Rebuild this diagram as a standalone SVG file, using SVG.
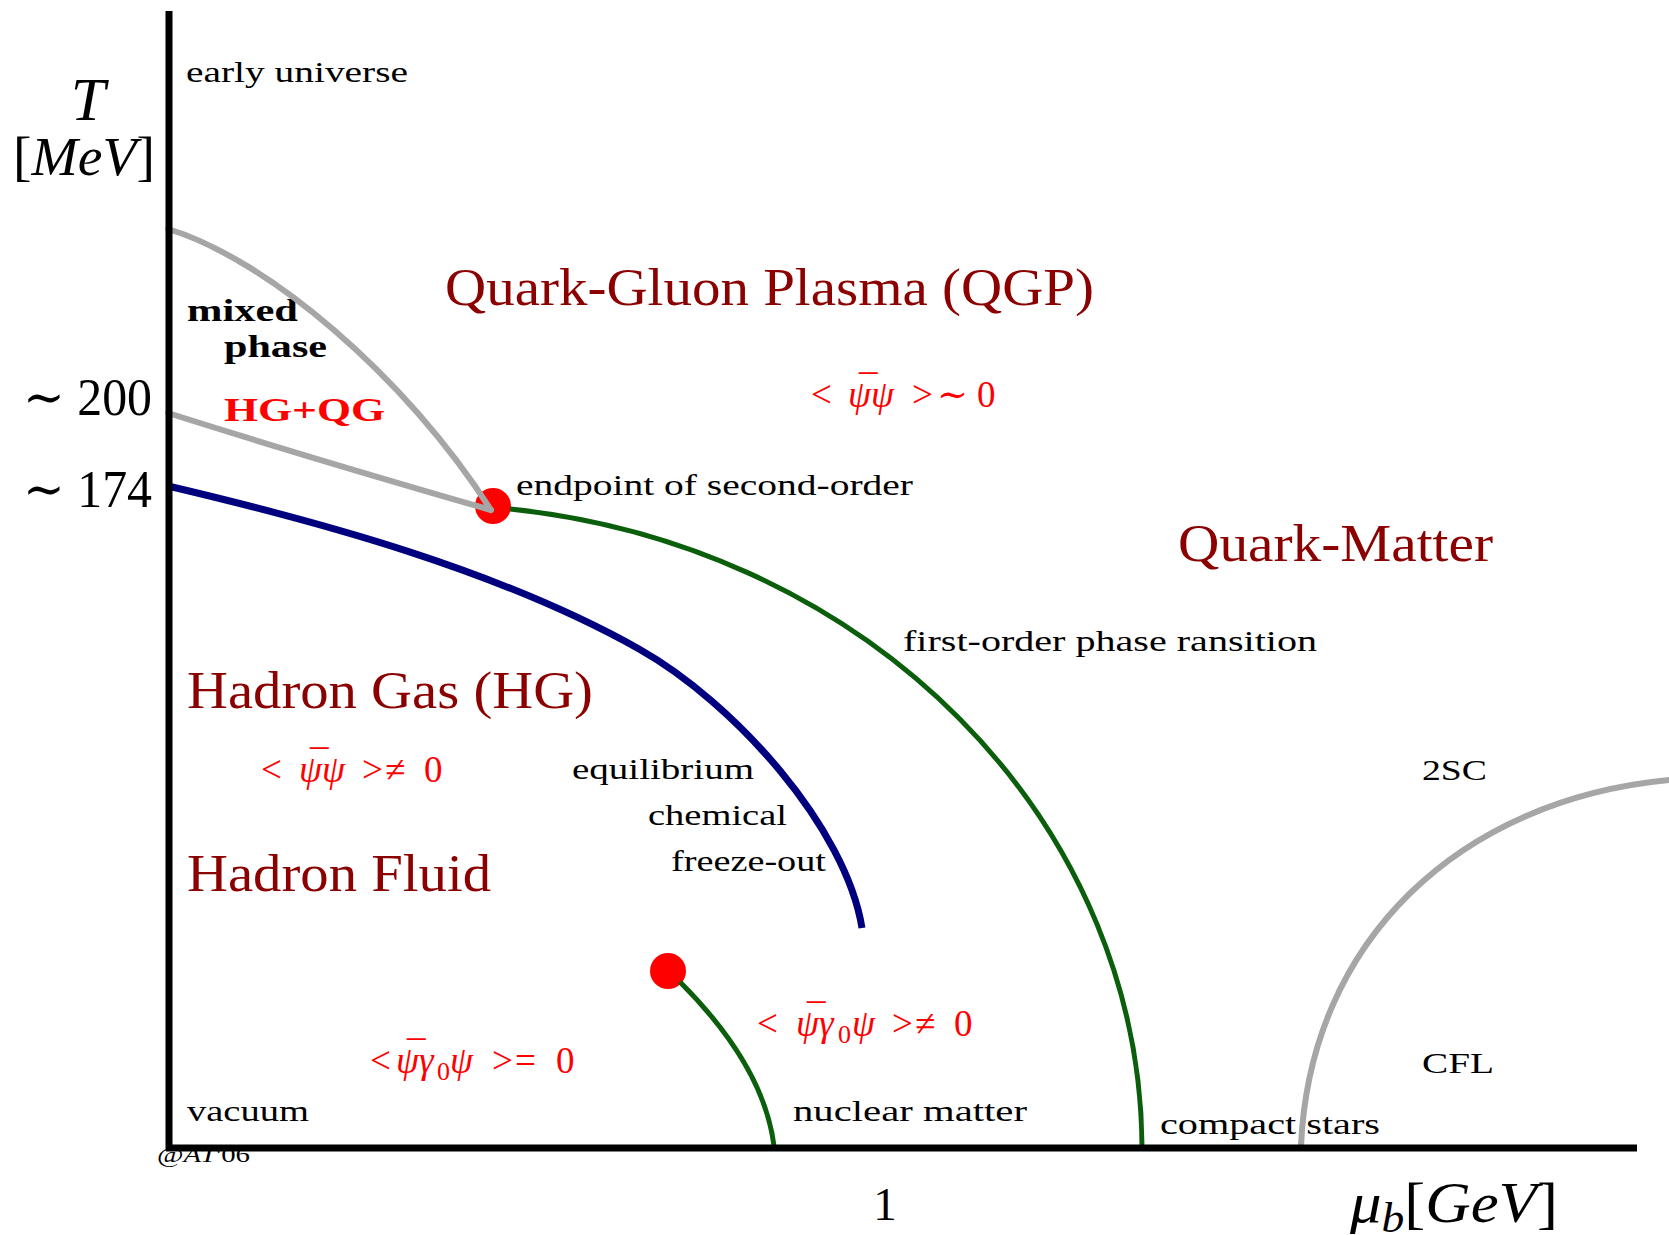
<svg xmlns="http://www.w3.org/2000/svg" width="1669" height="1235" viewBox="0 0 1669 1235">
<style>
text{font-family:"Liberation Serif","DejaVu Serif",serif;fill:#000}
.t{font-size:30px}
.b{font-size:32px;font-weight:bold}
.big{font-size:53px;fill:#8B0000}
.m{font-size:37px;fill:#f00}
.s{font-size:26px}
.i{font-style:italic}
.ax{font-size:52px}
.gray{fill:none;stroke:#a6a6a6;stroke-width:6;stroke-linecap:round}
.green{fill:none;stroke:#0b5e0b;stroke-width:5}
.blue{fill:none;stroke:#00007f;stroke-width:7}
.dot{fill:#f00}
</style>
<rect width="1669" height="1235" fill="#fff"/>
<g id="labels">
<text x="88" y="120" class="i" style="font-size:62px" text-anchor="middle">T</text>
<text x="13" y="175" style="font-size:54px" textLength="142" lengthAdjust="spacingAndGlyphs">[<tspan class="i">MeV</tspan>]</text>
<text x="186" y="82" class="t" textLength="222" lengthAdjust="spacingAndGlyphs">early universe</text>
<text x="23" y="415" class="ax" textLength="129" lengthAdjust="spacingAndGlyphs">∼ 200</text>
<text x="23" y="507" class="ax" textLength="129" lengthAdjust="spacingAndGlyphs">∼ 174</text>
<text x="157" y="1162" style="font-size:22px" textLength="93" lengthAdjust="spacingAndGlyphs">@<tspan class="i">AT</tspan>'06</text>
<text x="885" y="1220" style="font-size:47px" text-anchor="middle">1</text>
<text x="1350" y="1222" style="font-size:58px" textLength="208" lengthAdjust="spacingAndGlyphs"><tspan class="i">μ</tspan><tspan class="i" style="font-size:42px" dy="10">b</tspan><tspan dy="-10">[</tspan><tspan class="i">GeV</tspan>]</text>
</g>
<g id="node-qgp"><text x="445" y="305" class="big" textLength="649" lengthAdjust="spacingAndGlyphs">Quark-Gluon Plasma (QGP)</text>
<text y="407" class="m"><tspan x="811">&lt;</tspan><tspan x="859" dy="-6">¯</tspan><tspan x="848" dy="6" class="i">ψψ</tspan><tspan x="912">&gt;</tspan><tspan x="937">∼</tspan><tspan x="977">0</tspan></text></g>
<g id="node-mixed"><text x="187" y="321" class="b" textLength="111" lengthAdjust="spacingAndGlyphs">mixed</text>
<text x="224" y="357" class="b" textLength="103" lengthAdjust="spacingAndGlyphs">phase</text>
<text x="224" y="421" class="b" style="fill:#f00;font-size:34px" textLength="161" lengthAdjust="spacingAndGlyphs">HG+QG</text></g>
<g id="node-endpoint"><circle class="dot" cx="493" cy="506" r="18"/>
<text x="516" y="495" class="t" textLength="397" lengthAdjust="spacingAndGlyphs">endpoint of second-order</text></g>
<g id="node-quark-matter"><text x="1178" y="561" class="big" textLength="315" lengthAdjust="spacingAndGlyphs">Quark-Matter</text></g>
<g id="node-first-order"><text x="903" y="651" class="t" textLength="414" lengthAdjust="spacingAndGlyphs">first-order phase ransition</text></g>
<g id="node-hg"><text x="187" y="708" class="big" textLength="406" lengthAdjust="spacingAndGlyphs">Hadron Gas (HG)</text>
<text y="782" class="m"><tspan x="261">&lt;</tspan><tspan x="310" dy="-6">¯</tspan><tspan x="299" dy="6" class="i">ψψ</tspan><tspan x="362">&gt;</tspan><tspan x="385">≠</tspan><tspan x="424">0</tspan></text>
<text x="187" y="891" class="big" textLength="304" lengthAdjust="spacingAndGlyphs">Hadron Fluid</text></g>
<g id="node-freeze-out"><text x="572" y="779" class="t" textLength="182" lengthAdjust="spacingAndGlyphs">equilibrium</text>
<text x="648" y="825" class="t" textLength="139" lengthAdjust="spacingAndGlyphs">chemical</text>
<text x="671" y="871" class="t" textLength="155" lengthAdjust="spacingAndGlyphs">freeze-out</text></g>
<g id="node-2sc"><text x="1422" y="780" class="t" textLength="65" lengthAdjust="spacingAndGlyphs">2SC</text></g>
<g id="node-cfl"><text x="1422" y="1073" class="t" textLength="72" lengthAdjust="spacingAndGlyphs">CFL</text></g>
<g id="node-nuclear"><circle class="dot" cx="668" cy="971" r="18"/>
<text y="1036" class="m"><tspan x="757">&lt;</tspan><tspan x="807" dy="-6">¯</tspan><tspan x="796" dy="6" class="i">ψγ</tspan><tspan x="838" class="s" dy="7">0</tspan><tspan x="852" class="i" dy="-7">ψ</tspan><tspan x="892">&gt;</tspan><tspan x="915">≠</tspan><tspan x="954">0</tspan></text>
<text x="793" y="1121" class="t" textLength="234" lengthAdjust="spacingAndGlyphs">nuclear matter</text></g>
<g id="node-vacuum"><text y="1073" class="m"><tspan x="370">&lt;</tspan><tspan x="407" dy="-6">¯</tspan><tspan x="396" dy="6" class="i">ψγ</tspan><tspan x="437" class="s" dy="7">0</tspan><tspan x="450" class="i" dy="-7">ψ</tspan><tspan x="492">&gt;</tspan><tspan x="515">=</tspan><tspan x="556">0</tspan></text>
<text x="187" y="1121" class="t" textLength="122" lengthAdjust="spacingAndGlyphs">vacuum</text></g>
<g id="node-compact"><text x="1160" y="1134" class="t" textLength="220" lengthAdjust="spacingAndGlyphs">compact stars</text></g>
<g id="connectors">
<path id="crossover-upper" class="gray" d="M168,229 C265,258 405,375 491,510"/>
<path id="crossover-lower" class="gray" d="M168,413 Q310,458 491,510"/>
<path id="freeze-out-line" class="blue" d="M168,486 C325,523 500,571 639,649 C735,703 846,828 862,928"/>
<path id="first-order-line" class="green" d="M510,509 A712,645 0 0 1 1142,1146"/>
<path id="nuclear-line" class="green" d="M680,982 C722,1024 766,1082 774,1146"/>
<path id="cfl-line" class="gray" d="M1301,1146 C1310,940 1460,800 1669,780"/>
</g>
<g id="axes">
<line x1="169" y1="11" x2="169" y2="1151" stroke="#000" stroke-width="7"/>
<line x1="166" y1="1148" x2="1637" y2="1148" stroke="#000" stroke-width="7"/>
</g>
</svg>
